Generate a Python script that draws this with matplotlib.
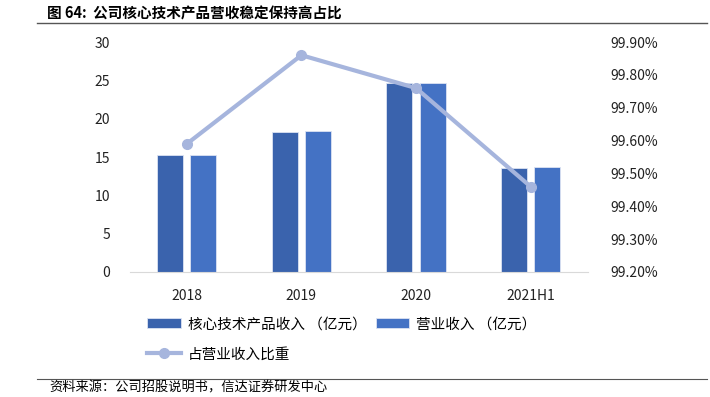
import numpy as np
import matplotlib.pyplot as plt
from matplotlib.lines import Line2D

plt.rcParams['font.family'] = ['Noto Sans CJK SC', 'DejaVu Sans']

categories = ["2018", "2019", "2020", "2021H1"]
core_rev = [15.2, 18.3, 24.6, 13.6]
total_rev = [15.3, 18.4, 24.7, 13.7]
ratio = [99.59, 99.86, 99.76, 99.46]

DARK = "#3A63AD"
LIGHT = "#4472C4"
LINE = "#A6B5DD"

fig = plt.figure(figsize=(7.1, 3.97), dpi=100)
ax = fig.add_axes([0.1824, 0.315, 0.6456, 0.579])

x = np.arange(len(categories))
w = 0.226
b1 = ax.bar(x - 0.145, core_rev, w, color=DARK, edgecolor="#DCE3F2", linewidth=0.6,
            label="核心技术产品收入 （亿元）")
b2 = ax.bar(x + 0.145, total_rev, w, color=LIGHT, edgecolor="#DCE3F2", linewidth=0.6,
            label="营业收入 （亿元）")
ax.set_xlim(-0.5, len(categories) - 0.5)
ax.set_ylim(0, 30)
ax.set_yticks(range(0, 31, 5))
ax.set_xticks(x)
ax.set_xticklabels(categories)

ax2 = ax.twinx()
l1, = ax2.plot(x, ratio, color=LINE, linewidth=3, marker="o", markersize=7,
               label="占营业收入比重")
ax2.set_ylim(99.2, 99.9)
ax2.set_yticks(np.arange(99.2, 99.91, 0.1))
ax2.set_yticklabels([f"{v:.2f}%" for v in np.arange(99.2, 99.91, 0.1)])

for a in (ax, ax2):
    for s in ("top", "left", "right", "bottom"):
        a.spines[s].set_visible(False)
    a.tick_params(length=0, labelsize=10, colors="#222222")
ax.spines["bottom"].set_visible(True)
ax.spines["bottom"].set_color("#D9D9D9")
ax.tick_params(axis="x", pad=12)
ax.tick_params(axis="y", pad=14)
ax2.tick_params(axis="y", pad=16)

handles = [b1, l1, b2]
ax.legend(handles=handles, labels=[h.get_label() for h in handles], ncol=2,
          loc="upper left", bbox_to_anchor=(0.01, -0.14), frameon=False,
          fontsize=10.5, handlelength=2.3, columnspacing=0.6, labelspacing=1.1,
          handletextpad=0.5)

fig.text(0.066, 0.966, "图 64:  公司核心技术产品营收稳定保持高占比", fontsize=10.5,
         fontweight="bold", va="center", ha="left")
fig.add_artist(Line2D([0.052, 0.996], [0.942, 0.942], color="#555555", linewidth=1))
fig.add_artist(Line2D([0.052, 0.996], [0.046, 0.046], color="#555555", linewidth=0.8))
fig.text(0.07, 0.022, "资料来源：公司招股说明书，信达证券研发中心", fontsize=9.5,
         style="italic", va="center", ha="left")

fig.savefig("out.png", dpi=100)
